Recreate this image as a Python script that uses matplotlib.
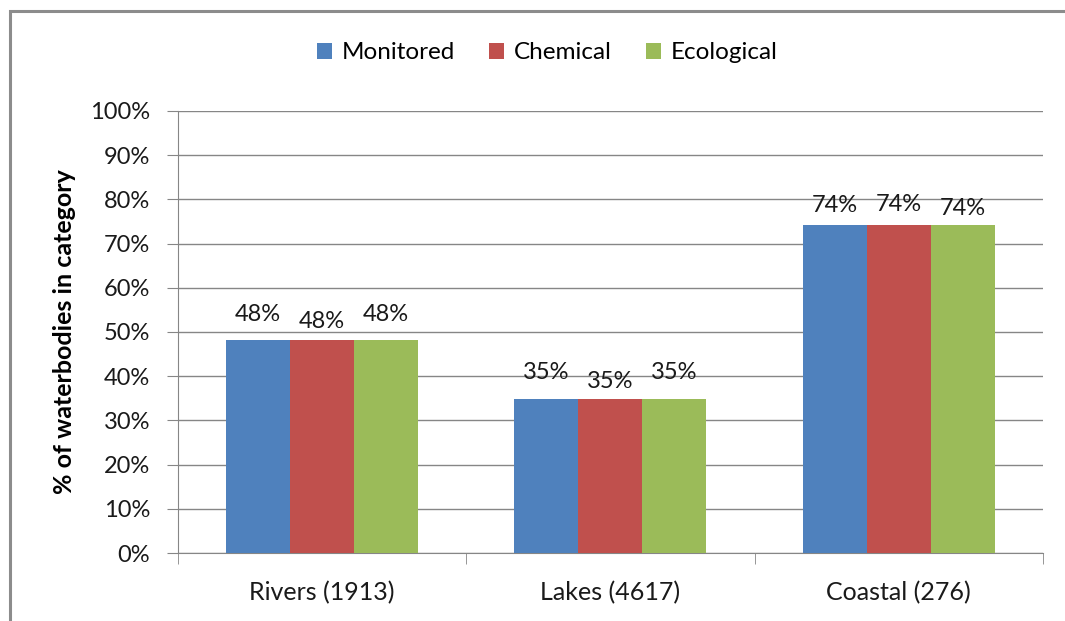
import numpy as np
import matplotlib as mpl
import matplotlib.pyplot as plt
from matplotlib.patches import Rectangle

mpl.rcParams.update({
    "font.family": ["Lato", "DejaVu Sans"],
    "font.size": 17,
})

categories = ["Rivers (1913)", "Lakes (4617)", "Coastal (276)"]
series = ["Monitored", "Chemical", "Ecological"]
monitored = [48.2, 34.9, 74.3]
chemical = [48.2, 34.9, 74.3]
ecological = [48.2, 34.9, 74.3]
labels = [["48%", "48%", "48%"], ["35%", "35%", "35%"], ["74%", "74%", "74%"]]
colors = ["#4F81BD", "#C0504D", "#9BBB59"]
# label vertical nudges (points) per category, per series
nudges = [[0, -5, 0], [0, -6, 0], [-4.5, -4, -7]]

fig = plt.figure(figsize=(10.65, 6.21), dpi=100)
ax = fig.add_axes([0.1671, 0.1095, 0.8122, 0.7118])

# outer chart frame
fig.patches.append(Rectangle((9.5 / 1065, -0.1), 1.2, (621 - 10.5) / 621 + 0.1,
                             transform=fig.transFigure, fill=False,
                             edgecolor="#8c8c8c", lw=2.2, zorder=0))

x = np.arange(len(categories))
w = 0.222
data = [monitored, chemical, ecological]
for i, (name, vals) in enumerate(zip(series, data)):
    pos = x + (i - 1) * w
    ax.bar(pos, vals, width=w, color=colors[i], label=name, zorder=3)
    for j, v in enumerate(vals):
        ax.annotate(labels[j][i], (pos[j], v), xytext=(0, 11 + nudges[j][i]),
                    textcoords="offset points", ha="center", va="bottom",
                    fontsize=17, color="#1a1a1a")

ax.set_xlim(-0.5, 2.5)
ax.set_ylim(0, 100)
ax.set_yticks(np.arange(0, 101, 10))
ax.set_yticklabels([f"{t}%" for t in range(0, 101, 10)])
ax.yaxis.grid(True, color="#868686", lw=1, zorder=0)
ax.set_xticks(x)
ax.set_xticklabels(categories)
ax.set_xticks([-0.5, 0.5, 1.5, 2.5], minor=True)
ax.tick_params(axis="x", which="major", length=0, pad=20, labelsize=18)
ax.tick_params(axis="x", which="minor", length=8, color="#868686", direction="out")
ax.tick_params(axis="y", length=8, color="#868686", pad=12, labelsize=17)
ax.tick_params(labelcolor="#1a1a1a")

for s in ["top", "right"]:
    ax.spines[s].set_visible(False)
ax.spines["left"].set_color("#868686")
ax.spines["bottom"].set_color("#868686")

ax.set_ylabel("% of waterbodies in category", fontsize=18, fontweight="bold",
              labelpad=10)

fig.legend(loc="center", bbox_to_anchor=(0.514, 0.915), ncol=3, frameon=False,
           handlelength=0.62, handleheight=0.62, handletextpad=0.4,
           columnspacing=1.4, fontsize=17.5)

fig.savefig("out.png", dpi=100)
